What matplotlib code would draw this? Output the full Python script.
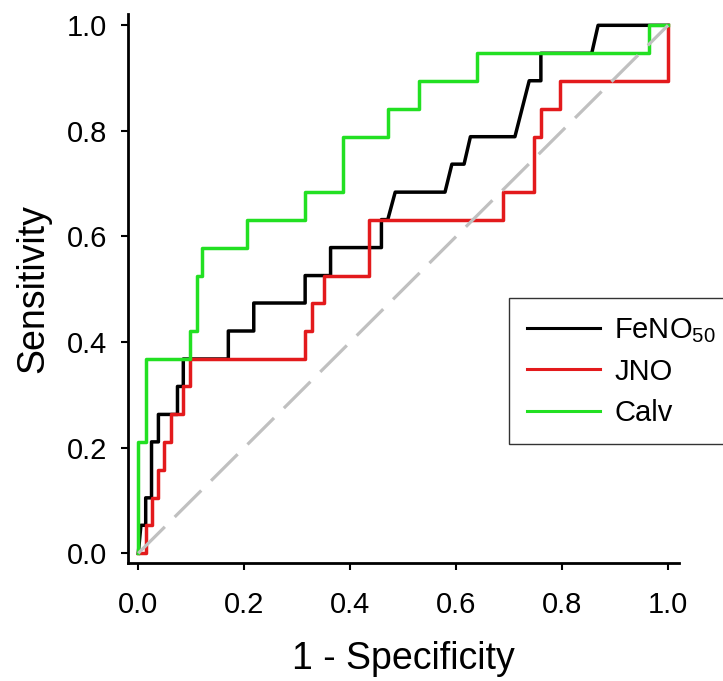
import matplotlib
matplotlib.use("Agg")
import matplotlib.pyplot as plt

plt.rcParams['font.family'] = ['Liberation Sans', 'DejaVu Sans']
plt.rcParams['mathtext.fontset'] = 'custom'
plt.rcParams['mathtext.rm'] = 'Liberation Sans'
plt.rcParams['mathtext.default'] = 'regular'
plt.rcParams['lines.scale_dashes'] = False

# ROC vertices (1 - specificity, sensitivity)
feno_x = [0, 0.005, 0.014, 0.014, 0.025, 0.025, 0.038, 0.038, 0.074, 0.074, 0.085, 0.085,
          0.170, 0.170, 0.218, 0.218, 0.315, 0.315, 0.363, 0.363, 0.459, 0.459, 0.471, 0.485,
          0.579, 0.592, 0.615, 0.627, 0.711, 0.738, 0.760, 0.760, 0.856, 0.868, 1.0]
feno_y = [0, 0.053, 0.053, 0.105, 0.105, 0.211, 0.211, 0.263, 0.263, 0.316, 0.316, 0.368,
          0.368, 0.421, 0.421, 0.474, 0.474, 0.526, 0.526, 0.579, 0.579, 0.632, 0.632, 0.684,
          0.684, 0.737, 0.737, 0.789, 0.789, 0.895, 0.895, 0.947, 0.947, 1.0, 1.0]

jno_x = [0, 0.014, 0.014, 0.025, 0.025, 0.038, 0.038, 0.049, 0.049, 0.061, 0.061, 0.085,
         0.085, 0.098, 0.098, 0.315, 0.315, 0.327, 0.327, 0.350, 0.350, 0.436, 0.436, 0.688,
         0.688, 0.747, 0.747, 0.760, 0.760, 0.796, 0.796, 1.0, 1.0]
jno_y = [0, 0, 0.053, 0.053, 0.105, 0.105, 0.158, 0.158, 0.211, 0.211, 0.263, 0.263,
         0.316, 0.316, 0.368, 0.368, 0.421, 0.421, 0.474, 0.474, 0.526, 0.526, 0.632, 0.632,
         0.684, 0.684, 0.789, 0.789, 0.842, 0.842, 0.895, 0.895, 1.0]

calv_x = [0, 0, 0.014, 0.014, 0.098, 0.098, 0.111, 0.111, 0.120, 0.120, 0.206, 0.206,
          0.315, 0.315, 0.387, 0.387, 0.471, 0.471, 0.530, 0.530, 0.639, 0.639, 0.965, 0.965, 1.0]
calv_y = [0, 0.211, 0.211, 0.368, 0.368, 0.421, 0.421, 0.526, 0.526, 0.579, 0.579, 0.632,
          0.632, 0.684, 0.684, 0.789, 0.789, 0.842, 0.842, 0.895, 0.895, 0.947, 0.947, 1.0, 1.0]

labels = ['FeNO$_{50}$', 'JNO', 'Calv']
colors = ['black', '#e31a1c', '#22e022']

fig = plt.figure(figsize=(7.23, 6.81), dpi=100)
ax = fig.add_axes([0.1766, 0.1736, 0.762, 0.8063])

lw = 2.5
ax.plot(feno_x, feno_y, color=colors[0], lw=lw, label=labels[0], zorder=3)
ax.plot(jno_x, jno_y, color=colors[1], lw=lw, label=labels[1], zorder=4)
ax.plot(calv_x, calv_y, color=colors[2], lw=lw, label=labels[2], zorder=5)

# reference diagonal
ax.plot([0, 1], [0, 1], color='#c0c0c0', lw=2.3, dashes=(27, 10), zorder=6)

ax.set_xlim(-0.02, 1.02)
ax.set_ylim(-0.018, 1.022)
ax.set_xticks([0, 0.2, 0.4, 0.6, 0.8, 1.0])
ax.set_yticks([0, 0.2, 0.4, 0.6, 0.8, 1.0])
ax.set_xticklabels(['0.0', '0.2', '0.4', '0.6', '0.8', '1.0'])
ax.set_yticklabels(['0.0', '0.2', '0.4', '0.6', '0.8', '1.0'])

for s in ['top', 'right']:
    ax.spines[s].set_visible(False)
for s in ['left', 'bottom']:
    ax.spines[s].set_linewidth(2.0)

ax.tick_params(axis='both', direction='out', length=5, width=1.5, labelsize=21)
ax.tick_params(axis='x', pad=15)
ax.tick_params(axis='y', pad=10)

ax.set_xlabel('1 - Specificity', fontsize=27, labelpad=16)
ax.set_ylabel('Sensitivity', fontsize=27, labelpad=11)

leg = ax.legend(loc='upper left', bbox_to_anchor=(0.7044, 0.562),
                bbox_transform=fig.transFigure, fontsize=21, frameon=True,
                fancybox=False, handlelength=2.5, handletextpad=0.5,
                labelspacing=0.45, borderpad=0.6, borderaxespad=0)
leg.get_frame().set_edgecolor('black')
leg.get_frame().set_linewidth(1.0)
for line in leg.get_lines():
    line.set_linewidth(2.2)

fig.savefig('out.png', dpi=100)
